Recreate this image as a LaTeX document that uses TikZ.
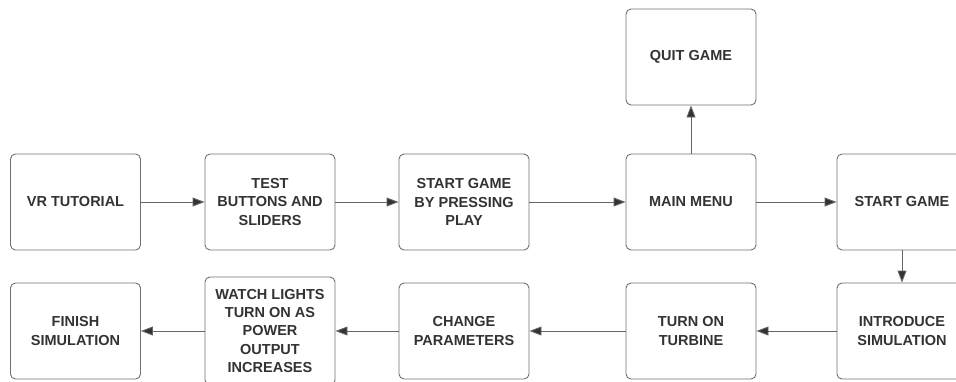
\documentclass[tikz,border=0pt]{standalone}
\usepackage{fontspec}
\setmainfont{Liberation Sans}
\usetikzlibrary{arrows.meta}
\definecolor{boxline}{HTML}{707070}
\definecolor{txt}{HTML}{333333}
\definecolor{arr}{HTML}{666666}
\tikzset{
  box/.style={draw=boxline, line width=0.9pt, rounded corners=5pt, fill=white,
    minimum width=130pt, minimum height=96pt, inner sep=0pt,
    align=center, text=txt,
    font=\fontsize{14.5pt}{18.3pt}\selectfont\bfseries},
  conn/.style={draw=arr, line width=0.9pt, -{Triangle[length=12pt,width=9pt,fill=txt]}}
}
\begin{document}
\begin{tikzpicture}[x=1pt,y=-1pt]
\useasboundingbox (0,0) rectangle (956,381);
\clip (0,0) rectangle (956,381);
% top row
\node[box] (vr) at (75.5,202) {VR TUTORIAL};
\node[box] (test) at (270,202) {TEST\\BUTTONS AND\\SLIDERS};
\node[box] (press) at (464,202) {START GAME\\BY PRESSING\\PLAY};
\node[box] (menu) at (691,202) {MAIN MENU};
\node[box] (quit) at (691,57) {QUIT GAME};
\node[box] (start) at (902,202) {START GAME};
% bottom row
\node[box] (intro) at (902,331) {INTRODUCE\\SIMULATION};
\node[box] (turb) at (691,331) {TURN ON\\TURBINE};
\node[box] (param) at (464,331) {CHANGE\\PARAMETERS};
\node[box, minimum height=108pt] (watch) at (270,331) {WATCH LIGHTS\\TURN ON AS\\POWER\\OUTPUT\\INCREASES};
\node[box] (finish) at (75.5,331) {FINISH\\SIMULATION};
% connectors
\draw[conn] (vr) -- (test);
\draw[conn] (test) -- (press);
\draw[conn] (press) -- (menu);
\draw[conn] (menu) -- (quit);
\draw[conn] (menu) -- (start);
\draw[conn] (start) -- (intro);
\draw[conn] (intro) -- (turb);
\draw[conn] (turb) -- (param);
\draw[conn] (param) -- (watch);
\draw[conn] (watch) -- (finish);
\end{tikzpicture}
\end{document}
